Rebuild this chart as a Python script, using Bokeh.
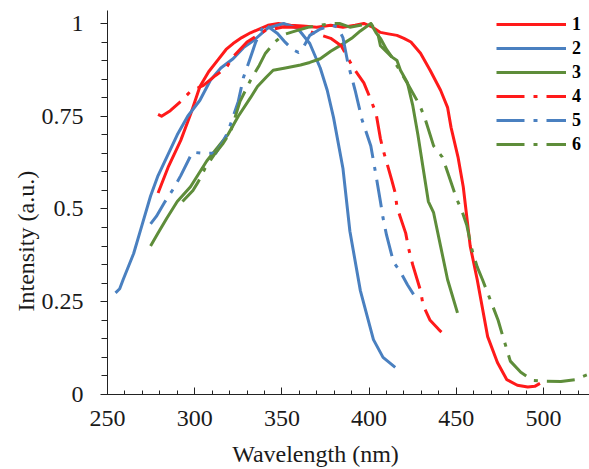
from bokeh.plotting import figure
from bokeh.models import (Range1d, FixedTicker, NumeralTickFormatter, Legend,
                          LegendItem, Title)
from bokeh.embed import file_html
from bokeh.resources import INLINE

# ---- data ----
wl1 = [279, 285, 292, 298, 303, 308, 313, 318, 322, 327, 332, 337, 342, 348, 355, 362,
       370, 378, 385, 392, 397, 402, 406.5, 411, 416, 420, 424, 429.5, 435, 441, 445,
       447, 451, 454, 458, 462, 468, 473.6, 479, 485, 491, 495, 498]
in1 = [0.543, 0.615, 0.685, 0.76, 0.83, 0.87, 0.90, 0.93, 0.946, 0.962, 0.975, 0.985,
       0.995, 1.0, 0.995, 0.993, 0.99, 0.995, 0.99, 0.995, 1.0, 0.99, 0.976, 0.972,
       0.968, 0.96, 0.95, 0.92, 0.874, 0.82, 0.774, 0.72, 0.64, 0.56, 0.40, 0.31,
       0.156, 0.086, 0.04, 0.025, 0.02, 0.022, 0.03]

wl2 = [254.6, 257, 259, 262, 265, 270, 274.7, 279, 284, 290, 296, 303, 309, 315, 322,
       328, 334, 341.7, 351, 359, 366, 372, 376, 379.6, 385, 389, 395, 402.5, 408, 415]
in2 = [0.274, 0.285, 0.31, 0.345, 0.38, 0.46, 0.535, 0.59, 0.64, 0.70, 0.75, 0.793,
       0.847, 0.88, 0.905, 0.935, 0.955, 0.987, 1.0, 0.987, 0.946, 0.88, 0.82, 0.747,
       0.61, 0.44, 0.28, 0.148, 0.10, 0.073]

wl3 = [274.7, 279, 284, 290, 297.6, 307, 313, 319, 325, 332, 336, 341, 345, 352, 360.7,
       366, 372, 378, 385, 390, 395, 401, 404, 406.5, 410, 413, 416, 418, 422, 425, 428,
       431, 434, 437, 441, 445, 450.7]
in3 = [0.40, 0.435, 0.475, 0.52, 0.56, 0.63, 0.665, 0.70, 0.75, 0.80, 0.83, 0.855,
       0.874, 0.88, 0.888, 0.895, 0.905, 0.925, 0.945, 0.96, 0.98, 1.0, 0.975, 0.96,
       0.93, 0.91, 0.90, 0.874, 0.84, 0.78, 0.70, 0.61, 0.52, 0.49, 0.40, 0.31, 0.22]

wl4 = [279, 281, 286, 292, 297.6, 305, 312, 318, 322, 330, 340, 350, 360, 368, 378, 384,
       391, 397, 400, 404, 406.5, 408, 413, 415, 416, 421, 422.6, 425, 429.5, 431, 435,
       440, 445]
in4 = [0.755, 0.75, 0.765, 0.79, 0.817, 0.833, 0.86, 0.88, 0.91, 0.95, 0.98, 0.99,
       0.99, 0.975, 0.96, 0.94, 0.88, 0.84, 0.806, 0.758, 0.69, 0.66, 0.578, 0.543,
       0.505, 0.435, 0.395, 0.35, 0.28, 0.24, 0.20, 0.175, 0.153]

wl5 = [274.7, 278, 283, 288, 292, 298.7, 305, 312, 316, 319, 325, 328, 331, 335, 340,
       344, 347.5, 352, 356, 359.5, 362, 366, 372, 379, 382, 385, 388, 392, 394, 396,
       401, 404, 406.5, 408, 410, 414, 418, 422, 425.5]
in5 = [0.46, 0.48, 0.52, 0.556, 0.59, 0.653, 0.65, 0.65, 0.68, 0.707, 0.79, 0.855,
       0.895, 0.95, 1.0, 0.985, 0.973, 0.949, 0.93, 0.922, 0.933, 0.968, 0.985, 0.995,
       0.99, 0.962, 0.89, 0.82, 0.78, 0.74, 0.67, 0.59, 0.52, 0.476, 0.43, 0.357, 0.33,
       0.296, 0.27]

wl6 = [293, 296, 299, 302, 306, 311, 316, 320.5, 326, 332, 337, 340.6, 346, 351, 358,
       365, 372, 378, 383, 389, 395, 401, 405, 406.5, 413, 418, 423, 429, 432, 437, 442,
       445, 450, 453.6, 456, 459, 462, 465, 471, 474, 476.5, 481, 487, 494, 500, 510,
       518, 526]
in6 = [0.52, 0.535, 0.55, 0.573, 0.61, 0.645, 0.675, 0.707, 0.79, 0.847, 0.887, 0.92,
       0.95, 0.97, 0.98, 0.99, 0.995, 1.0, 1.0, 0.99, 0.995, 1.0, 0.973, 0.94, 0.91,
       0.87, 0.83, 0.78, 0.745, 0.67, 0.64, 0.60, 0.53, 0.49, 0.457, 0.39, 0.344, 0.31,
       0.237, 0.20, 0.16, 0.09, 0.06, 0.038, 0.036, 0.035, 0.04, 0.055]

series_names = ["1", "2", "3", "4", "5", "6"]
x_ticks = [250, 300, 350, 400, 450, 500]
x_minor = [250, 260, 270, 280, 290, 300, 310, 320, 330, 340, 350, 360, 370, 380, 390,
           400, 410, 420, 430, 440, 450, 460, 470, 480, 490, 500, 510, 520]
y_ticks = [0, 0.25, 0.5, 0.75, 1]
y_minor = [0, 0.05, 0.1, 0.15, 0.2, 0.25, 0.3, 0.35, 0.4, 0.45, 0.5, 0.55, 0.6, 0.65,
           0.7, 0.75, 0.8, 0.85, 0.9, 0.95, 1.0]
x_title = "Wavelength (nm)"
y_title = "Intensity (a.u.)"

RED = "#ff1a1a"
BLUE = "#4a80c0"
GREEN = "#5e8d3a"
DASH = "28 9 4 9"
FONT = "Liberation Serif"
TXT = "#1a1a1a"

p = figure(width=589, height=469, output_backend="svg", toolbar_location=None,
           x_range=Range1d(250, 526.4), y_range=Range1d(0, 1.035),
           min_border_left=107, min_border_right=0, min_border_top=10,
           min_border_bottom=74)
p.outline_line_color = None
p.grid.visible = False
p.background_fill_color = "white"

styles = [(wl1, in1, RED, "solid"), (wl2, in2, BLUE, "solid"), (wl3, in3, GREEN, "solid"),
          (wl4, in4, RED, DASH), (wl5, in5, BLUE, DASH), (wl6, in6, GREEN, DASH)]
items = []
for name, (xs, ys, col, dash) in zip(series_names, styles):
    r = p.line(xs, ys, line_color=col, line_width=3, line_dash=dash,
               line_join="round")
    items.append(LegendItem(label=name, renderers=[r]))

# axes
xa = p.xaxis[0]
xa.ticker = FixedTicker(ticks=x_ticks, minor_ticks=x_minor)
xa.major_tick_in = 7
xa.major_tick_out = 0
xa.minor_tick_in = 4
xa.minor_tick_out = 0
xa.major_label_standoff = 16
# trailing no-break spaces move the centred title left, as in the reference
xa.axis_label = x_title + "\u00a0" * 11
xa.axis_label_standoff = 12
xa.axis_label_text_font = FONT
xa.axis_label_text_font_size = "24px"
xa.axis_label_text_font_style = "normal"
xa.axis_label_text_color = TXT

ya = p.yaxis[0]
ya.ticker = FixedTicker(ticks=y_ticks, minor_ticks=y_minor)
ya.formatter = NumeralTickFormatter(format="0.[00]")
ya.major_tick_in = 0
ya.major_tick_out = 7
ya.minor_tick_in = 0
ya.minor_tick_out = 6
ya.major_label_standoff = 17
for ax in (xa, ya):
    ax.axis_line_color = "#222222"
    ax.major_tick_line_color = "#222222"
    ax.minor_tick_line_color = "#222222"
    ax.major_label_text_font = FONT
    ax.major_label_text_font_size = "24px"
    ax.major_label_text_color = TXT

p.add_layout(Title(text=y_title, align="left", offset=83, standoff=0,
                   text_font=FONT, text_font_size="24px", text_font_style="normal",
                   text_color=TXT), "left")

legend = Legend(items=items, location=(389, 238), glyph_width=70, glyph_height=24,
                label_height=24, spacing=0, padding=0, margin=0, label_standoff=6,
                border_line_alpha=0, background_fill_alpha=0,
                label_text_font=FONT, label_text_font_size="18px",
                label_text_font_style="bold", label_text_color="black")
p.add_layout(legend)

open("out.html", "w").write(file_html(p, INLINE))
